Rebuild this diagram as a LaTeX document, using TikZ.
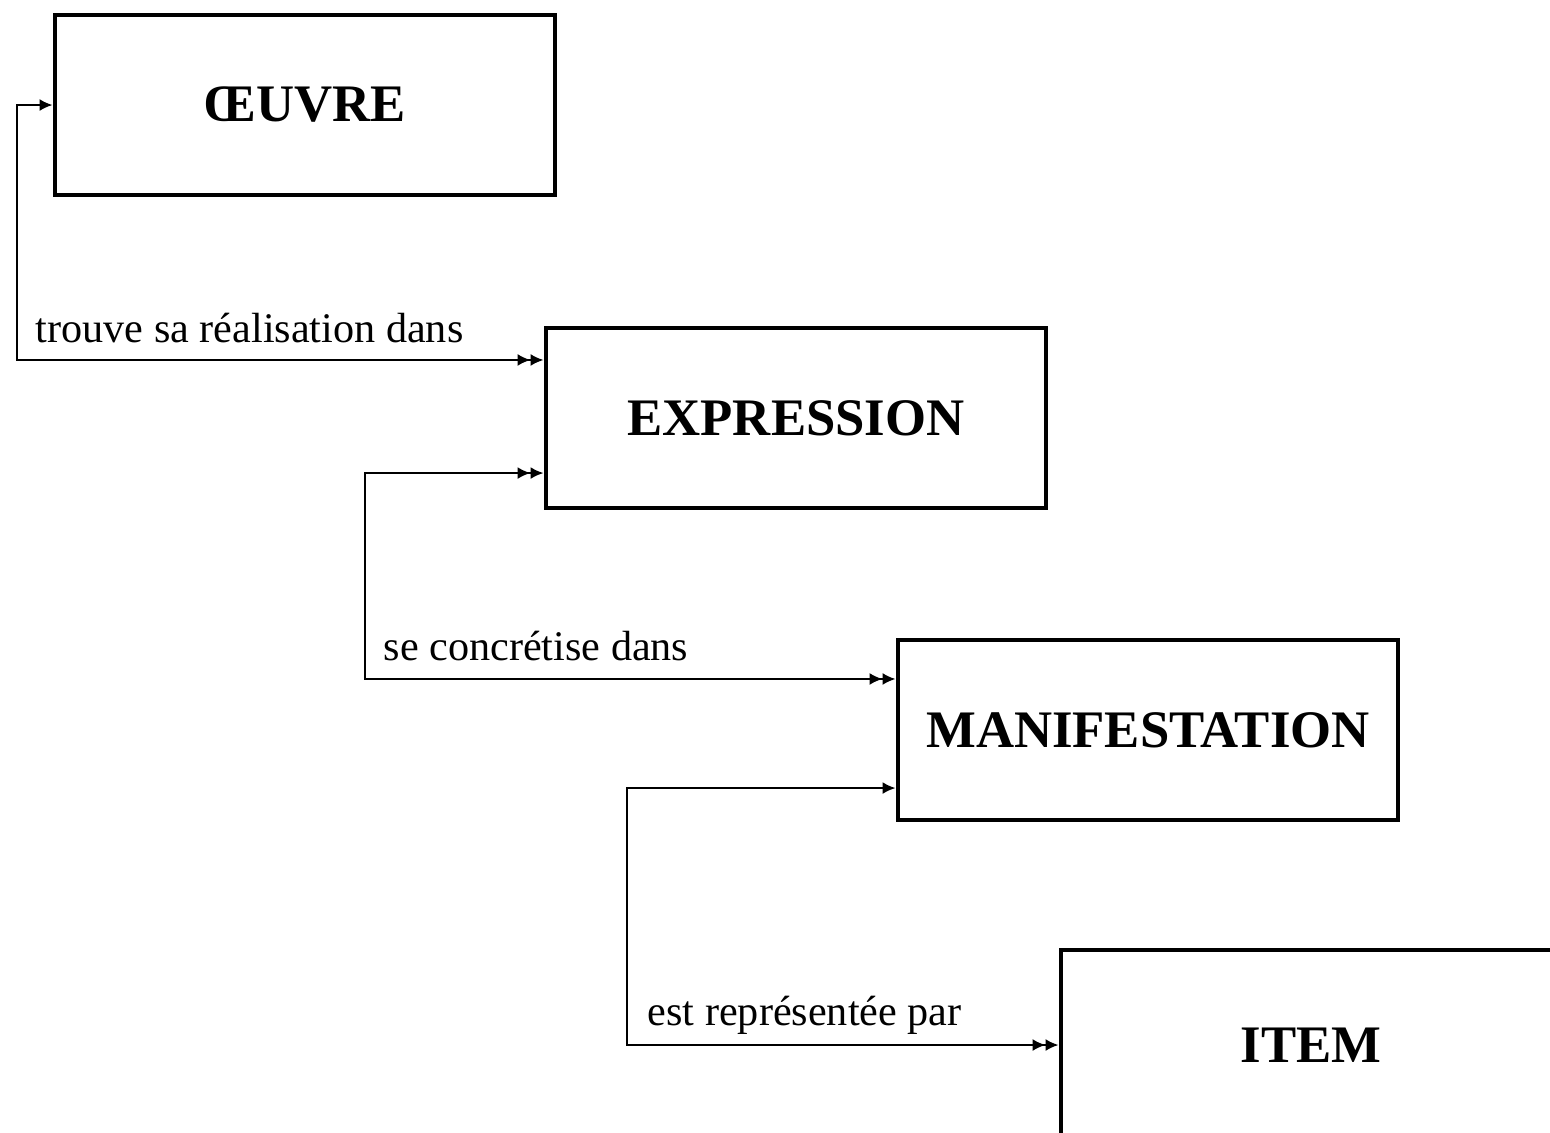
\documentclass[tikz,border=0pt]{standalone}
\usepackage{fontspec}
\setmainfont{Liberation Serif}
\usetikzlibrary{arrows.meta}

\begin{document}
\begin{tikzpicture}[x=0.01cm, y=-0.01cm, >={Latex[length=1.3mm,width=1.2mm]},
    entity/.style={draw, line width=1.3pt, minimum width=5.0cm, minimum height=1.8cm,
        font=\fontsize{15}{18}\selectfont\bfseries},
    relation/.style={anchor=base west, inner sep=0pt, font=\fontsize{12}{14}\selectfont},
    link/.style={line width=0.6pt}]
    \useasboundingbox (0,0) rectangle (1550,1132);
    \clip (0,0) rectangle (1550,1132);

    \node[entity] (oeuvre) at (305,105) {ŒUVRE};
    \node[entity] (expression) at (796,418) {EXPRESSION};
    \node[entity] (manifestation) at (1148,730) {MANIFESTATION};
    \node[entity, minimum height=1.9cm] (item) at (1311,1045) {ITEM};

    \node[relation] (realise) at (35,342) {trouve sa réalisation dans};
    \draw[link, <->>] (oeuvre.west) -- ++(-36,0) |- ([yshift=0.58cm]expression.west);

    \node[relation] (concretise) at (383,660) {se concrétise dans};
    \draw[link, <<->>] ([yshift=-0.55cm]expression.west) -- ++(-179,0) |- ([yshift=0.51cm]manifestation.west);

    \node[relation] (represente) at (647,1025) {est représentée par};
    \draw[link, <->>] ([yshift=-0.58cm]manifestation.west) -- ++(-269,0) |- (item.west);
\end{tikzpicture}
\end{document}
